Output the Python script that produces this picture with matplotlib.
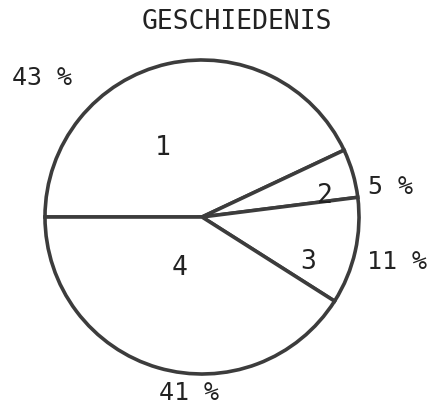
import matplotlib
matplotlib.use("Agg")
import matplotlib.pyplot as plt

# === DATA ====================================================================
title = "GESCHIEDENIS"
slice_ids = ["1", "2", "3", "4"]
shares = [43, 5, 11, 41]          # percent
pct_labels = [f"{v} %" for v in shares]
# ============================================================================

# layout in pixel units (y measured from the top of the image)
W, H = 432, 410
CENTER = (202, 218)
RADIUS = 157
id_pos = [(163, 148), (325, 196), (308, 262), (180, 268)]
pct_pos = [(42, 78), (390, 187), (397, 262), (189, 393)]

LINE = "#3c3c3c"
TEXT = "#222222"
FONT = "DejaVu Sans Mono"

fig = plt.figure(figsize=(W / 100, H / 100), dpi=100)
ax = fig.add_axes([0, 0, 1, 1])

ax.pie(
    shares,
    center=(CENTER[0], H - CENTER[1]),
    radius=RADIUS,
    startangle=180,
    counterclock=False,
    colors=["white"] * len(shares),
    wedgeprops=dict(edgecolor=LINE, linewidth=2.6),
    frame=True,
)
ax.set_xlim(0, W)
ax.set_ylim(0, H)
ax.set_aspect("equal")
ax.axis("off")

ax.text(237, H - 22, title, ha="center", va="center",
        fontsize=19, family=FONT, color=TEXT)

for lab, (x, y) in zip(slice_ids, id_pos):
    ax.text(x, H - y, lab, ha="center", va="center",
            fontsize=19, family=FONT, color=TEXT)

for lab, (x, y) in zip(pct_labels, pct_pos):
    ax.text(x, H - y, lab, ha="center", va="center",
            fontsize=18, family=FONT, color=TEXT)

fig.savefig("out.png", dpi=100, facecolor="white")
